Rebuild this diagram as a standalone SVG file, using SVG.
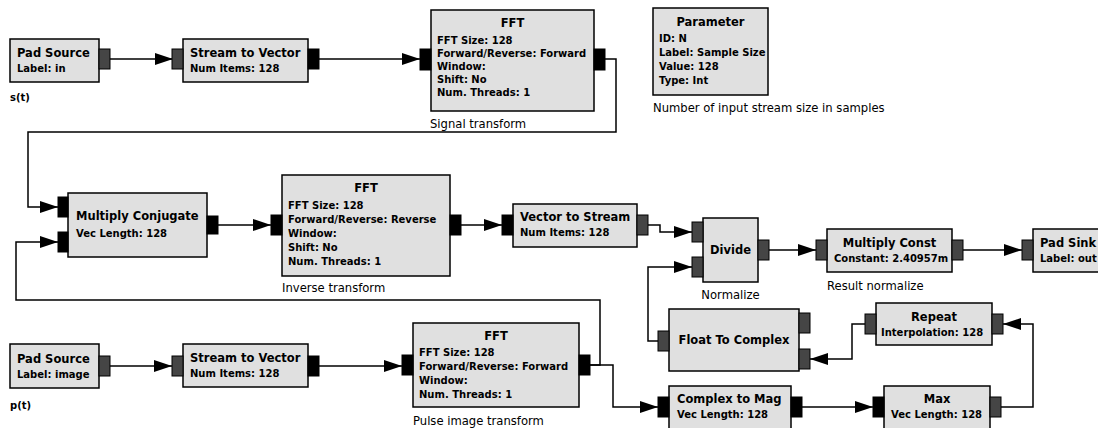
<svg xmlns="http://www.w3.org/2000/svg" width="1098" height="428" viewBox="0 0 1098 428">
<defs>
<marker id="ah" markerUnits="userSpaceOnUse" markerWidth="18" markerHeight="12" refX="18" refY="6" orient="auto">
<path d="M0,0 L18,6 L0,12 z" fill="#000"/>
</marker>
<style>
.blk{fill:#e0e0e0;stroke:#000;stroke-width:1.5}
.pg{fill:#454545;stroke:#000;stroke-width:1}
.pb{fill:#000;stroke:#000;stroke-width:1}
.t{font-family:"DejaVu Sans",sans-serif;font-weight:bold;font-size:11.5px;fill:#000}
.c{text-anchor:middle}
.p{font-family:"DejaVu Sans",sans-serif;font-weight:bold;font-size:10px;fill:#000}
.l{font-family:"DejaVu Sans",sans-serif;font-size:11.6px;fill:#000}
.lb{font-family:"DejaVu Sans",sans-serif;font-weight:bold;font-size:10px;fill:#000}
.w{fill:none;stroke:#000;stroke-width:1.5;marker-end:url(#ah)}
</style>
</defs>
<rect width="1098" height="428" fill="#fff"/>

<g id="connectors">
<path class="w" d="M110,59 H173"/>
<path class="w" d="M319,59 H420"/>
<path class="w" d="M605,59 H616 V132 H28 V207 H58"/>
<path class="w" d="M218,225 H271"/>
<path class="w" d="M461,225 H502"/>
<path class="w" d="M648,225 H660 V232 H692"/>
<path class="w" d="M769,250 H816"/>
<path class="w" d="M963,250 H1022"/>
<path class="w" d="M658,341 H648 V267 H692"/>
<path class="w" d="M865,324 H852 V359 H810"/>
<path class="w" d="M1001,407 H1033 V324 H1003"/>
<path class="w" d="M110,366 H172"/>
<path class="w" d="M319,366 H402"/>
<path class="w" d="M590,365 H600 V300 H16 V242 H58"/>
<path class="w" d="M590,365 H613 V407 H658"/>
<path class="w" d="M802,407 H873"/>
</g>

<g id="pad_source_in">
<rect class="blk" x="10" y="39" width="89" height="43"/>
<rect class="pg" x="99" y="49" width="11" height="20"/>
<text class="t" x="17" y="57">Pad Source</text>
<text class="p" x="17" y="72">Label: in</text>
<text class="lb" x="10" y="101">s(t)</text>
</g>

<g id="stream_to_vector_1">
<rect class="blk" x="183" y="39" width="125" height="43"/>
<rect class="pg" x="172" y="49" width="11" height="20"/>
<rect class="pb" x="308" y="49" width="11" height="20"/>
<text class="t" x="190" y="57">Stream to Vector</text>
<text class="p" x="190" y="72">Num Items: 128</text>
</g>

<g id="fft_signal">
<rect class="blk" x="431" y="10" width="163" height="101"/>
<rect class="pb" x="420" y="49" width="11" height="21"/>
<rect class="pb" x="594" y="49" width="11" height="21"/>
<text class="t c" x="512.5" y="27">FFT</text>
<text class="p" x="437" y="44">FFT Size: 128</text>
<text class="p" x="437" y="57">Forward/Reverse: Forward</text>
<text class="p" x="437" y="70">Window:</text>
<text class="p" x="437" y="83">Shift: No</text>
<text class="p" x="437" y="96">Num. Threads: 1</text>
<text class="l" x="430" y="128">Signal transform</text>
</g>

<g id="parameter">
<rect class="blk" x="653" y="8" width="115" height="87"/>
<text class="t c" x="710.5" y="26">Parameter</text>
<text class="p" x="659" y="42">ID: N</text>
<text class="p" x="659" y="56">Label: Sample Size</text>
<text class="p" x="659" y="70">Value: 128</text>
<text class="p" x="659" y="84">Type: Int</text>
<text class="l" x="653" y="112">Number of input stream size in samples</text>
</g>

<g id="multiply_conjugate">
<rect class="blk" x="68" y="193" width="139" height="64"/>
<rect class="pb" x="58" y="197" width="10" height="20"/>
<rect class="pb" x="58" y="232" width="10" height="20"/>
<rect class="pb" x="207" y="216" width="11" height="18"/>
<text class="t" x="76" y="220">Multiply Conjugate</text>
<text class="p" x="76" y="237">Vec Length: 128</text>
</g>

<g id="fft_inverse">
<rect class="blk" x="282" y="175" width="168" height="101"/>
<rect class="pb" x="271" y="215" width="11" height="20"/>
<rect class="pb" x="450" y="215" width="11" height="20"/>
<text class="t c" x="366" y="192">FFT</text>
<text class="p" x="288" y="209">FFT Size: 128</text>
<text class="p" x="288" y="223">Forward/Reverse: Reverse</text>
<text class="p" x="288" y="237">Window:</text>
<text class="p" x="288" y="251">Shift: No</text>
<text class="p" x="288" y="265">Num. Threads: 1</text>
<text class="l" x="282" y="292">Inverse transform</text>
</g>

<g id="vector_to_stream">
<rect class="blk" x="513" y="204" width="124" height="43"/>
<rect class="pb" x="502" y="215" width="11" height="20"/>
<rect class="pg" x="637" y="215" width="11" height="20"/>
<text class="t" x="520" y="221">Vector to Stream</text>
<text class="p" x="520" y="236">Num Items: 128</text>
</g>

<g id="divide">
<rect class="blk" x="703" y="218" width="55" height="64"/>
<rect class="pg" x="692" y="222" width="11" height="20"/>
<rect class="pg" x="692" y="257" width="11" height="20"/>
<rect class="pg" x="758" y="240" width="11" height="20"/>
<text class="t c" x="730.5" y="254">Divide</text>
<text class="l c" x="730.5" y="299">Normalize</text>
</g>

<g id="multiply_const">
<rect class="blk" x="827" y="229" width="125" height="43"/>
<rect class="pg" x="816" y="240" width="11" height="20"/>
<rect class="pg" x="952" y="240" width="11" height="20"/>
<text class="t c" x="889.5" y="247">Multiply Const</text>
<text class="p" x="834" y="262">Constant: 2.40957m</text>
<text class="l" x="827" y="290">Result normalize</text>
</g>

<g id="pad_sink">
<rect class="blk" x="1033" y="229" width="70" height="43"/>
<rect class="pg" x="1022" y="240" width="11" height="20"/>
<text class="t" x="1040" y="247">Pad Sink</text>
<text class="p" x="1040" y="262">Label: out</text>
</g>

<g id="float_to_complex">
<rect class="blk" x="669" y="309" width="130" height="62"/>
<rect class="pg" x="658" y="331" width="11" height="20"/>
<rect class="pg" x="799" y="313" width="11" height="20"/>
<rect class="pg" x="799" y="349" width="11" height="20"/>
<text class="t c" x="734" y="344">Float To Complex</text>
</g>

<g id="repeat">
<rect class="blk" x="876" y="303" width="116" height="42"/>
<rect class="pg" x="865" y="314" width="11" height="20"/>
<rect class="pg" x="992" y="314" width="11" height="20"/>
<text class="t c" x="934" y="321">Repeat</text>
<text class="p" x="881" y="336">Interpolation: 128</text>
</g>

<g id="pad_source_image">
<rect class="blk" x="10" y="344" width="89" height="44"/>
<rect class="pg" x="99" y="356" width="11" height="20"/>
<text class="t" x="17" y="363">Pad Source</text>
<text class="p" x="17" y="378">Label: image</text>
<text class="lb" x="10" y="409">p(t)</text>
</g>

<g id="stream_to_vector_2">
<rect class="blk" x="183" y="344" width="125" height="43"/>
<rect class="pg" x="172" y="356" width="11" height="20"/>
<rect class="pb" x="308" y="356" width="11" height="20"/>
<text class="t" x="190" y="362">Stream to Vector</text>
<text class="p" x="190" y="377">Num Items: 128</text>
</g>

<g id="fft_pulse">
<rect class="blk" x="413" y="323" width="166" height="84"/>
<rect class="pb" x="402" y="355" width="11" height="20"/>
<rect class="pb" x="579" y="355" width="11" height="20"/>
<text class="t c" x="496" y="340">FFT</text>
<text class="p" x="419" y="356">FFT Size: 128</text>
<text class="p" x="419" y="370">Forward/Reverse: Forward</text>
<text class="p" x="419" y="384">Window:</text>
<text class="p" x="419" y="398">Num. Threads: 1</text>
<text class="l" x="413" y="425">Pulse image transform</text>
</g>

<g id="complex_to_mag">
<rect class="blk" x="669" y="386" width="122" height="44"/>
<rect class="pb" x="658" y="397" width="11" height="20"/>
<rect class="pb" x="791" y="397" width="11" height="20"/>
<text class="t" x="677" y="403">Complex to Mag</text>
<text class="p" x="677" y="418">Vec Length: 128</text>
</g>

<g id="max">
<rect class="blk" x="884" y="386" width="106" height="44"/>
<rect class="pb" x="873" y="397" width="11" height="20"/>
<rect class="pg" x="990" y="397" width="11" height="20"/>
<text class="t c" x="937" y="403">Max</text>
<text class="p" x="891" y="418">Vec Length: 128</text>
</g>
</svg>
